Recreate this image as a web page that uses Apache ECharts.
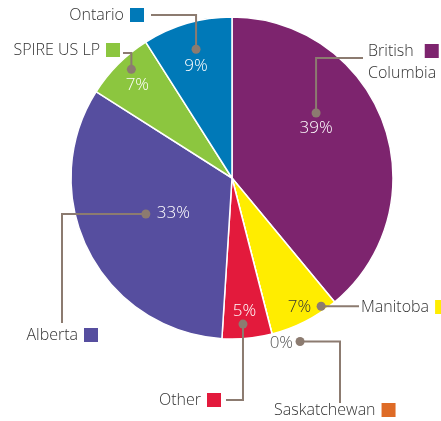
<!DOCTYPE html>
<html>
<head>
<meta charset="utf-8">
<script src="https://cdn.jsdelivr.net/npm/echarts@6/dist/echarts.min.js"></script>
<style>
  html, body { margin: 0; padding: 0; background: #ffffff; }
  #chart { width: 441px; height: 421px; }
</style>
</head>
<body>
<div id="chart"></div>
<script>
// Share of total by region, clockwise from 12 o'clock
const categories = ['British Columbia', 'Manitoba', 'Saskatchewan', 'Other', 'Alberta', 'SPIRE US LP', 'Ontario'];
const shares = [39, 7, 0, 5, 33, 7, 9];
const sliceColors = ['#7D246E', '#FFED00', '#DE6B26', '#E31A3C', '#564E9F', '#8CC63F', '#0079B8'];
const nameLines = [['British', 'Columbia'], ['Manitoba'], ['Saskatchewan'], ['Other'], ['Alberta'], ['SPIRE US LP'], ['Ontario']];

// ---- layout ----
const FONT = '"Open Sans", "DejaVu Sans", sans-serif';
const WEIGHT = '300';
const NAME_SIZE = 16;
const PCT_SIZE = 17;
const CX = 232, CY = 178, R = 161;
const LEADER = '#8C7B70';
// callout dot: [angle offset from slice middle (deg), radius as fraction of R]
const dotPlace = [[-17.9, 0.66], [-7.8, 0.97], [-8.2, 1.10], [1.1, 0.91], [4.3, 0.58], [2.2, 0.92], [0.6, 0.83]];
// leader route from the dot: first leg direction, then end point (null keeps the dot's coordinate)
const leaderRoute = [
  ['v', 363, 58], ['h', 359, null], ['h', 340, 403], ['v', 226, 400],
  ['h', 62, 323], ['v', 123, 53], ['v', 151, 15]
];
// name label anchor: [x, y, align, verticalAlign]
const nameAnchor = [
  [368, 40, 'left', 'top'], [361, 307, 'left', 'middle'], [274, 410, 'left', 'middle'],
  [221, 400, 'right', 'middle'], [98, 335, 'right', 'middle'], [120, 50, 'right', 'middle'],
  [144, 15, 'right', 'middle']
];
// percentage label offset from the dot: [dx, dy, align]
const pctAnchor = [
  [0, 15, 'center'], [-10, 1, 'right'], [-7, 2, 'right'], [1.5, -13, 'center'],
  [11, -1, 'left'], [6, 16, 'center'], [0, 17, 'center']
];
const pctColors = ['#ffffff', '#333333', '#555555', '#ffffff', '#ffffff', '#ffffff', '#ffffff'];

// slice middles (degrees clockwise from the top) derived from the shares
const total = shares.reduce((a, b) => a + b, 0);
let acc = 0;
const midAngles = shares.map(v => { const m = (acc + v / 2) / total * 360; acc += v; return m; });
const dots = midAngles.map((m, i) => {
  const a = (m + dotPlace[i][0]) * Math.PI / 180;
  const r = R * dotPlace[i][1];
  return [CX + r * Math.sin(a), CY - r * Math.cos(a)];
});
const leaderPoints = dots.map((d, i) => {
  const [first, ex, ey] = leaderRoute[i];
  const end = [ex == null ? d[0] : ex, ey == null ? d[1] : ey];
  const corner = first === 'v' ? [d[0], end[1]] : [end[0], d[1]];
  return [d.slice(), corner, end];
});

const rich = {
  n: { fontFamily: FONT, fontWeight: WEIGHT, fontSize: NAME_SIZE, color: '#333333', lineHeight: 22 },
  g: { width: 6 },
  g2: { width: 11 }
};
sliceColors.forEach((c, i) => { rich['s' + i] = { width: 14, height: 14, backgroundColor: c }; });

const nameText = (i) => {
  const lines = nameLines[i];
  let s = '{n|' + lines[0] + '}' + (lines.length > 1 ? '{g2|}' : '{g|}') + '{s' + i + '|}';
  for (let k = 1; k < lines.length; k++) s += '\n{n|' + lines[k] + '}';
  return s;
};

const chart = echarts.init(document.getElementById('chart'), null, { renderer: 'canvas' });
chart.setOption({
  animation: false,
  backgroundColor: '#ffffff',
  series: [
    {
      type: 'pie',
      z: 2,
      center: [CX, CY],
      radius: R,
      startAngle: 90,
      clockwise: true,
      avoidLabelOverlap: false,
      silent: true,
      itemStyle: { borderColor: '#ffffff', borderWidth: 1.5 },
      label: {
        show: true,
        position: 'inside',
        formatter: '{c}%',
        fontFamily: FONT,
        fontWeight: WEIGHT,
        fontSize: PCT_SIZE
      },
      labelLine: { show: false },
      labelLayout: (p) => {
        const i = p.dataIndex, d = dots[i], a = pctAnchor[i];
        return { x: d[0] + a[0], y: d[1] + a[1], align: a[2], verticalAlign: 'middle' };
      },
      data: categories.map((name, i) => ({
        name, value: shares[i],
        itemStyle: { color: sliceColors[i] },
        label: { color: pctColors[i] }
      }))
    },
    {
      // name callouts with elbow leader lines
      type: 'pie',
      z: 3,
      center: [CX, CY],
      radius: R,
      startAngle: 90,
      clockwise: true,
      avoidLabelOverlap: false,
      silent: true,
      itemStyle: { color: 'rgba(0,0,0,0)', borderWidth: 0 },
      emphasis: { disabled: true },
      label: { show: true, position: 'outside', rich },
      labelLine: { show: true, length: 5, length2: 5, lineStyle: { color: LEADER, width: 2 } },
      labelLayout: (p) => {
        const i = p.dataIndex, n = nameAnchor[i];
        return { x: n[0], y: n[1], align: n[2], verticalAlign: n[3], labelLinePoints: leaderPoints[i] };
      },
      data: categories.map((name, i) => ({
        name, value: shares[i],
        label: { formatter: nameText(i) }
      }))
    }
  ],
  graphic: dots.map(d => ({
    type: 'circle', z: 100, silent: true,
    shape: { cx: d[0], cy: d[1], r: 4.5 },
    style: { fill: LEADER }
  }))
});
</script>
</body>
</html>
